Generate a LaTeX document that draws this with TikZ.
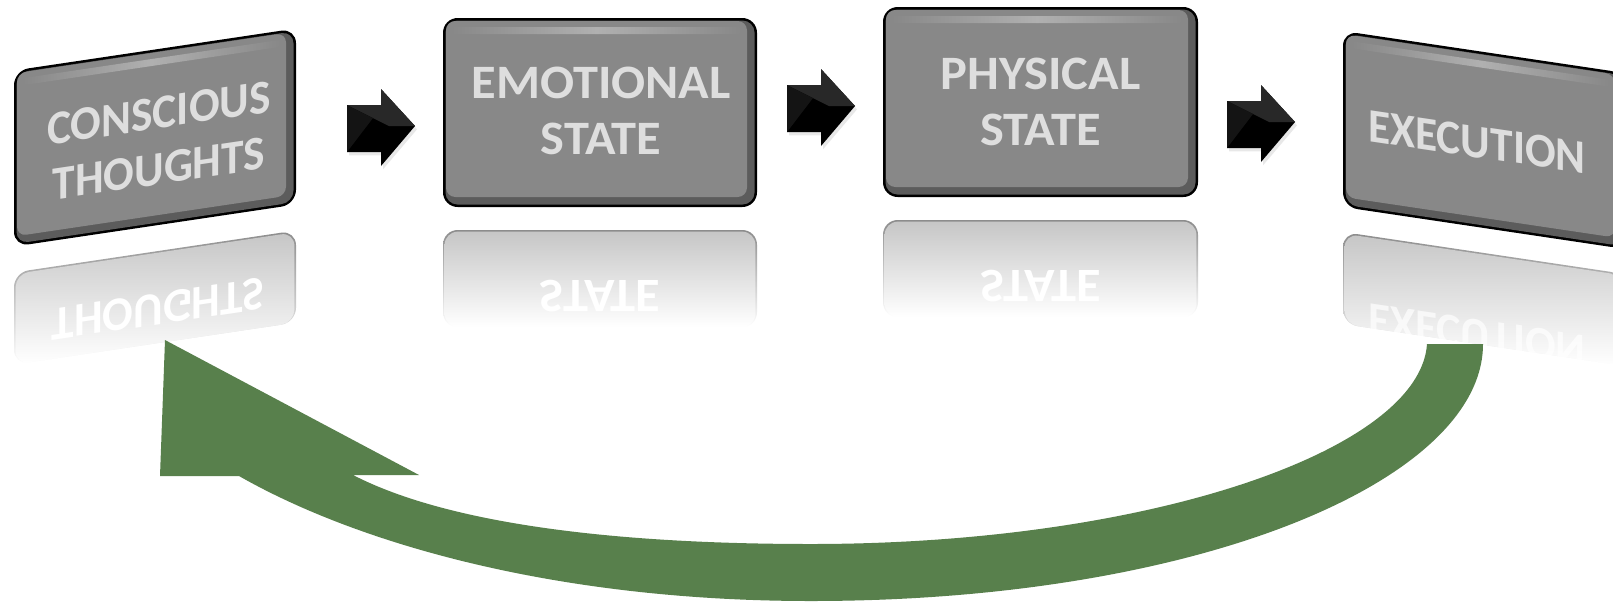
\documentclass[tikz,border=0pt]{standalone}
\usepackage{fontspec}
\setmainfont{Carlito}
\newfontfamily\boxfont{Carlito}[FakeStretch=1.05]
\usetikzlibrary{shadows,calc}
\definecolor{boxface}{RGB}{136,136,136}
\definecolor{boxdark}{RGB}{92,92,92}
\definecolor{boxhl}{RGB}{176,176,176}
\definecolor{boxtext}{RGB}{222,222,222}
\definecolor{loopgreen}{RGB}{88,128,76}
\definecolor{reflface}{RGB}{198,198,198}
\definecolor{reflrim}{RGB}{140,140,140}
\definecolor{arrowfacet}{RGB}{40,40,40}
\begin{document}
\begin{tikzpicture}[x=0.75pt,y=-0.75pt,
  boxlabel/.style={text=boxtext, font=\boxfont\bfseries\fontsize{36}{42}\selectfont, align=center, inner sep=0pt},
  refllabel/.style={text=white, font=\boxfont\bfseries\fontsize{36}{42}\selectfont, inner sep=0pt},
  pics/bevelbox/.style n args={2}{code={
    \fill[black,rounded corners=11pt] (-#1,-#2) rectangle (#1,#2);
    \fill[boxdark,rounded corners=9pt] ({2.5-#1},{2.5-#2}) rectangle ({#1-2.5},{#2-2.5});
    \fill[boxface,rounded corners=7pt] ({3-#1},{3-#2}) rectangle ({#1-10},{#2-10});
    \shade[left color=boxface,right color=boxface,middle color=boxhl,rounded corners=2pt]
      ({9-#1},{9-#2}) rectangle ({#1-16},{16-#2});
  }},
  pics/reflbox/.style n args={3}{code={
    \shade[top color=reflrim,bottom color=white,rounded corners=11pt]
      (-#1,{#2+#3}) -- (-#1,#2) -- (#1,#2) -- (#1,{#2+#3}) -- cycle;
    \shade[top color=reflface,bottom color=white,rounded corners=10pt]
      ({1.6-#1},{#2+#3}) -- ({1.6-#1},{#2+1.6}) -- ({#1-1.6},{#2+1.6}) -- ({#1-1.6},{#2+#3}) -- cycle;
  }},
  pics/blockarrow/.style={code={
    \fill[black, drop shadow={shadow xshift=1.5pt,shadow yshift=-2.5pt,opacity=0.18,fill=black!50}]
      (-34,-22) -- (0,-22) -- (0,-38) -- (34,-1) -- (0,39) -- (0,25) -- (-34,25) -- cycle;
    \fill[arrowfacet] (-34,-22) -- (0,-22) -- (0,-38) -- (34,-1) -- (8,-1) -- (-8,-9) -- cycle;
    \fill[black!92] (-34,-22) -- (-8,-9) -- (-34,25) -- cycle;
  }}
]
\clip (0,0) rectangle (1613,601);
\fill[white] (0,0) rectangle (1613,601);

% ---------- box 1 (slanted) ----------
\begin{scope}[shift={(155,137.5)}, yslant=0.149]
  \pic[transform shape] {reflbox={141}{114}{92}};
  \begin{scope}[shift={(3,172)}, xscale=0.9, yscale=-1]
    \node[refllabel, transform shape] (b1r) at (0,0) {THOUGHTS};
  \end{scope}
  \pic[transform shape] {bevelbox={141}{88}};
  \begin{scope}[shift={(4,4)}, xscale=0.9]
    \node[boxlabel, transform shape] (b1) at (0,0) {CONSCIOUS\\THOUGHTS};
  \end{scope}
\end{scope}

% ---------- box 2 ----------
\pic at (600,112.5) {reflbox={157}{117.5}{97}};
\begin{scope}[shift={(600,296)}, yscale=-1]
  \node[refllabel, transform shape] (b2r) at (0,0) {STATE};
\end{scope}
\pic at (600,112.5) {bevelbox={157}{94.5}};
\node[boxlabel] (b2) at (601,111) {EMOTIONAL\\STATE};

% ---------- box 3 ----------
\pic at (1040.5,102) {reflbox={157.5}{118}{97}};
\begin{scope}[shift={(1040.5,286)}, yscale=-1]
  \node[refllabel, transform shape] (b3r) at (0,0) {STATE};
\end{scope}
\pic at (1040.5,102) {bevelbox={157.5}{95}};
\node[boxlabel] (b3) at (1040.5,102) {PHYSICAL\\STATE};

% ---------- box 4 (slanted) ----------
\begin{scope}[shift={(1484,140)}, yslant=-0.149]
  \pic[transform shape] {reflbox={141}{113}{92}};
  \begin{scope}[shift={(-7,196)}, xscale=0.9, yscale=-1]
    \node[refllabel, text opacity=0.7, transform shape] (b4r) at (0,0) {EXECUTION};
  \end{scope}
  \pic[transform shape] {bevelbox={141}{88}};
  \begin{scope}[shift={(-7,3)}, xscale=0.9]
    \node[boxlabel, transform shape] (b4) at (0,0) {EXECUTION};
  \end{scope}
\end{scope}

% ---------- black block arrows ----------
\pic at (381,127) {blockarrow};
\pic at (821,107) {blockarrow};
\pic at (1261,123) {blockarrow};

% ---------- green return arrow ----------
\coordinate (loopTip) at (165,340);
\coordinate (loopTail) at (1455,344);
\fill[loopgreen]
  (loopTip) -- (160,476) -- (239,476)
  .. controls (360,545) and (560,601) .. (811,601)
  .. controls (1200,601) and (1483,480) .. (1483,344)
  -- (1427,344)
  .. controls (1420,450) and (1150,544) .. (811,544)
  .. controls (620,544) and (450,525) .. (353,475)
  -- (419,475) -- cycle;
\end{tikzpicture}
\end{document}
